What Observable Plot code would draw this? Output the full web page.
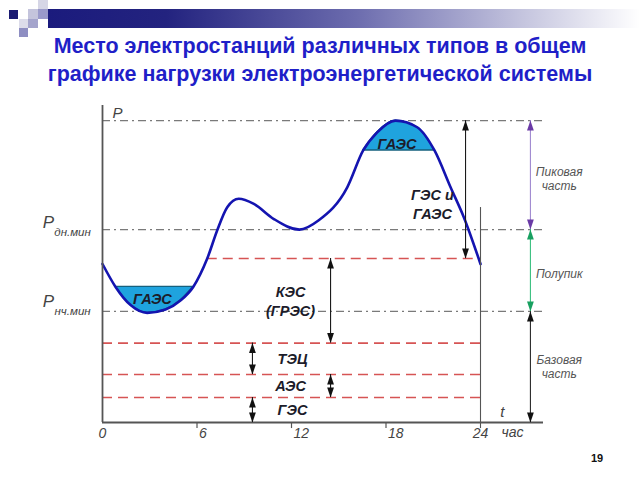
<!DOCTYPE html>
<html>
<head>
<meta charset="utf-8">
<script src="https://cdn.jsdelivr.net/npm/d3@7"></script>
<script src="https://cdn.jsdelivr.net/npm/@observablehq/plot@0.6"></script>
<style>
  body { margin: 0; background: #fff; }
  #slide { position: relative; width: 640px; height: 480px; overflow: hidden; background: #fff; font-family: "Liberation Sans", Arial, sans-serif; }
  .sq { position: absolute; }
  #band { position: absolute; left: 48px; top: 9px; width: 592px; height: 19px;
          background: linear-gradient(to right, #1b1b7d 0%, #23237f 20%, #6c6cae 52%, #c4c4de 80%, #ffffff 100%); }
  #chart { position: absolute; left: 0; top: 0; }
  #title { position: absolute; left: 0; top: 32px; width: 640px; text-align: center;
           font-size: 21.5px; line-height: 28px; font-weight: bold; color: #1f1fc8; }
  #num { position: absolute; left: 587px; top: 452px; width: 20px; text-align: center; font-size: 11px; font-weight: bold; color: #111; }
</style>
</head>
<body>
<div id="slide">
  <div id="band"></div>
  <div class="sq" style="left:9px;top:10px;width:9px;height:9px;background:#1b1b72"></div>
  <div class="sq" style="left:28px;top:9px;width:10px;height:10px;background:#c4c4dc"></div>
  <div class="sq" style="left:38px;top:0px;width:10px;height:9px;background:#d6d6e6"></div>
  <div class="sq" style="left:38px;top:9px;width:10px;height:10px;background:#9a9aca"></div>
  <div class="sq" style="left:19px;top:19px;width:9px;height:9px;background:#dcdcea"></div>
  <div class="sq" style="left:28px;top:19px;width:10px;height:9px;background:#a4a4cc"></div>
  <div class="sq" style="left:19px;top:28px;width:9px;height:9px;background:#8e8ec2"></div>
  <div id="chart"></div>
  <div id="title">Место электростанций различных типов в общем<br>графике нагрузки электроэнергетической системы</div>
  <div id="num">19</div>
</div>
<script>
// ---- Data ----
// Daily load curve (hour of day, load in % of the daily maximum)
const hours = [0, 0.83, 1.8, 2.84, 4.0, 4.95, 5.76, 6.65, 7.28, 7.92, 8.65, 9.61, 10.88, 12.5, 13.73, 15.54, 16.55, 17.44, 18.6, 19.98, 21.08, 22.1, 22.94, 24];
const load  = [52.5, 44.9, 38.8, 36.3, 37.4, 40.4, 44.9, 54.3, 63.6, 71.3, 74.1, 72.4, 67.4, 63.9, 67.0, 77.9, 90.1, 96.1, 100, 97.8, 90.1, 77.9, 68.0, 52.5];

// Reference levels
const levelNames  = ["P", "Pдн.мин", "КЭС", "Pнч.мин", "ТЭЦ", "АЭС", "ГЭС"];
const levelValues = [100, 63.9, 54.3, 36.8, 26.3, 15.9, 8.3];
const dashDotLevels = ["P", "Pдн.мин", "Pнч.мин"];
const plantLevels   = ["КЭС", "ТЭЦ", "АЭС", "ГЭС"];
const plantStart    = [6.65, 0, 0, 0];   // hour where each red line begins

// ГАЭС (pumped storage) regions: hour range and level
const gaesFrom  = [0.83, 16.55];
const gaesTo    = [5.76, 21.08];
const gaesLevel = [44.9, 90.1];

// Axis ticks
const tickHours = [0, 6, 12, 18, 24];
const xMax = 28;
const yMax = 105;

// Dimension arrows
const arrowNames  = ["ГЭС и ГАЭС", "КЭС", "ТЭЦ", "АЭС", "ГЭС", "Пиковая", "Полупик", "Базовая"];
const arrowHour   = [23.05, 14.48, 9.52, 14.48, 9.52, 27.17, 27.17, 27.17];
const arrowTop    = [100, 54.3, 26.3, 15.9, 8.3, 100, 63.9, 36.8];
const arrowBottom = [54.3, 26.3, 15.9, 8.3, 0, 63.9, 36.8, 0];
const arrowGroup  = ["main", "main", "main", "main", "main", "peak", "semi", "base"];

// Bold labels inside the chart
const labelText = ["ГЭС и\nГАЭС", "КЭС\n(ГРЭС)", "ТЭЦ", "АЭС", "ГЭС", "ГАЭС", "ГАЭС"];
const labelHour = [20.95, 11.94, 12.06, 11.94, 12.06, 3.17, 18.7];
const labelLoad = [72.5, 40.4, 21.5, 12.6, 4.6, 41.4, 92.7];

// Side labels on the right
const sideText = ["Пиковая\nчасть", "Полупик", "Базовая\nчасть"];
const sideHour = [29.0, 29.0, 29.0];
const sideLoad = [80.8, 49.3, 18.5];

// ---- Build tables ----
const curve = hours.map((h, i) => ({h, p: load[i]}));
const levels = levelNames.map((n, i) => ({name: n, v: levelValues[i]}));
const lv = Object.fromEntries(levels.map(d => [d.name, d.v]));
const dashDot = dashDotLevels.map(n => ({name: n, v: lv[n]}));
const plants = plantLevels.map((n, i) => ({name: n, v: lv[n], x1: plantStart[i]}));
const gaes = gaesFrom.map((f, i) => ({
  level: gaesLevel[i],
  pts: curve.filter(d => d.h >= f - 1e-9 && d.h <= gaesTo[i] + 1e-9)
}));
const arrows = arrowNames.map((n, i) => ({name: n, x: arrowHour[i], top: arrowTop[i], bottom: arrowBottom[i], group: arrowGroup[i]}));
const labels = labelText.map((t, i) => ({t, x: labelHour[i], y: labelLoad[i]}));
const sides = sideText.map((t, i) => ({t, x: sideHour[i], y: sideLoad[i]}));

const lineColor = {main: "#1a1a1a", peak: "#a08ad0", semi: "#3cc080", base: "#2a2a2a"};
const headColor = {main: "#111111", peak: "#6a3aa6", semi: "#18a060", base: "#111111"};

const gaesFill = "#1fa3de";
const bold = {fontWeight: "bold", fontStyle: "italic", fill: "#1c1c2a"};

const plot = Plot.plot({
  width: 640,
  height: 480,
  marginLeft: 102,
  marginRight: 97,
  marginTop: 105,
  marginBottom: 58,
  x: {domain: [0, xMax], axis: null},
  y: {domain: [0, yMax], axis: null},
  style: {background: "transparent", fontFamily: "'Liberation Sans', Arial, sans-serif", overflow: "visible"},
  marks: [
    // dash-dot reference levels
    Plot.ruleY(dashDot, {y: "v", x1: 0, x2: xMax, stroke: "#7a7a7a", strokeWidth: 1.1, strokeDasharray: "8,4,2,4"}),
    // red dashed plant levels
    Plot.ruleY(plants, {y: "v", x1: "x1", x2: 24, stroke: "#d65454", strokeWidth: 1.6, strokeDasharray: "10,6"}),
    // ГАЭС fills
    ...gaes.map(g => Plot.areaY(g.pts, {x: "h", y1: g.level, y2: "p", curve: "monotone-x", fill: gaesFill, stroke: "#15607e", strokeWidth: 1.3})),
    // load curve
    Plot.line(curve, {x: "h", y: "p", curve: "monotone-x", stroke: "#1414b0", strokeWidth: 2.6}),
    // axes
    Plot.ruleX([0], {y1: 0, y2: yMax, stroke: "#555", strokeWidth: 1.8}),
    Plot.ruleY([0], {x1: 0, x2: xMax, stroke: "#555", strokeWidth: 1.8}),
    Plot.ruleX([24], {y1: -2, y2: 71.2, stroke: "#555", strokeWidth: 1.1}),
    Plot.ruleX(tickHours.filter(h => h > 0 && h < 24), {y1: 0, y2: -2, stroke: "#555", strokeWidth: 1.2}),
    // arrows: shafts
    Plot.ruleX(arrows, {x: "x", y1: "top", y2: "bottom", stroke: d => lineColor[d.group], strokeWidth: 1.1}),
    // arrow heads
    Plot.vector(arrows, {x: "x", y: "top", length: 10, r: 3.4, rotate: 0, anchor: "end", shape: "spike", fill: d => headColor[d.group], stroke: "none"}),
    Plot.vector(arrows, {x: "x", y: "bottom", length: 10, r: 3.4, rotate: 180, anchor: "end", shape: "spike", fill: d => headColor[d.group], stroke: "none"}),
    // tick labels
    Plot.text(tickHours.filter(h => h === 0 || h === 24), {x: d => d, frameAnchor: "bottom", dy: 15, text: d => String(d), fontSize: 14, fontStyle: "italic", fill: "#444", textAnchor: "middle"}),
    Plot.text(tickHours.filter(h => h > 0 && h < 24), {x: d => d, frameAnchor: "bottom", dy: 15, dx: 2, text: d => String(d), fontSize: 14, fontStyle: "italic", fill: "#444", textAnchor: "start"}),
    Plot.text(["t"], {x: 25.38, y: 3.3, text: d => d, fontSize: 15, fontStyle: "italic", fill: "#444"}),
    Plot.text(["час"], {x: 26.03, y: -3.3, text: d => d, fontSize: 14, fontStyle: "italic", fill: "#444"}),
    // y labels
    Plot.text(["P"], {x: 0.95, y: 102.6, text: d => d, fontSize: 15, fontStyle: "italic", fill: "#444"}),
    Plot.text(["P"], {x: -3.43, y: 66.2, text: d => d, fontSize: 17, fontStyle: "italic", fill: "#444"}),
    Plot.text(["дн.мин"], {x: -1.9, y: 63.0, text: d => d, fontSize: 11.5, fontStyle: "italic", fill: "#444"}),
    Plot.text(["P"], {x: -3.43, y: 40.1, text: d => d, fontSize: 17, fontStyle: "italic", fill: "#444"}),
    Plot.text(["нч.мин"], {x: -1.9, y: 36.8, text: d => d, fontSize: 11.5, fontStyle: "italic", fill: "#444"}),
    // bold labels
    Plot.text(labels, {x: "x", y: "y", text: "t", fontSize: 14.5, lineHeight: 1.32, ...bold}),
    // side labels
    Plot.text(sides, {x: "x", y: "y", text: "t", fontSize: 12, lineHeight: 1.2, fontStyle: "italic", fill: "#555"})
  ]
});
document.getElementById("chart").appendChild(plot);
</script>
</body>
</html>
